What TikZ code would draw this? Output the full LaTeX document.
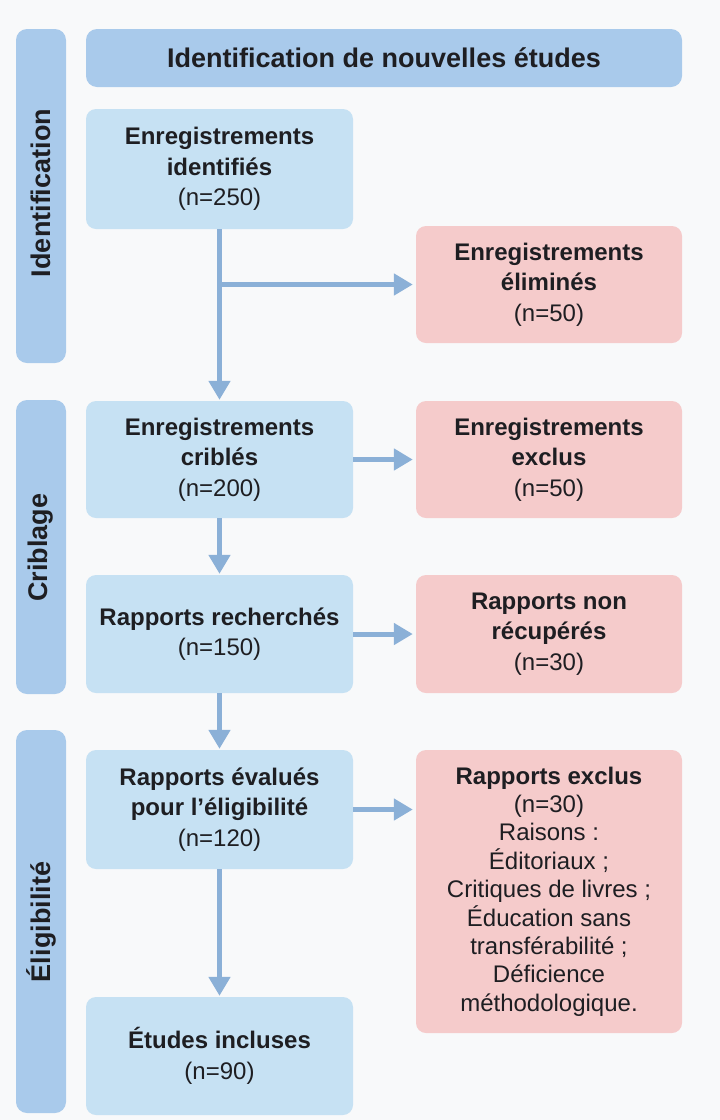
\documentclass[tikz,border=0pt]{standalone}
\usepackage{fontspec}
\setmainfont{Liberation Sans}
\usetikzlibrary{arrows.meta,calc}
\definecolor{bgc}{HTML}{F8F9FA}
\definecolor{barc}{HTML}{A9CAEB}
\definecolor{boxb}{HTML}{C6E1F3}
\definecolor{boxr}{HTML}{F5CBCB}
\definecolor{arrc}{HTML}{8BB0D7}
\definecolor{txtc}{HTML}{1E1E22}
\newcommand{\cnt}[1]{{\mdseries #1}}
\tikzset{
  bluebox/.style={rectangle, rounded corners=10pt, fill=boxb, text=txtc, align=center,
    minimum width=267pt, inner sep=0pt, font=\fontsize{24}{30.5}\selectfont\bfseries},
  redbox/.style={rectangle, rounded corners=10pt, fill=boxr, text=txtc, align=center,
    minimum width=266pt, inner sep=0pt, font=\fontsize{24}{30.5}\selectfont\bfseries},
  sidebar/.style={rectangle, rounded corners=11pt, fill=barc, text=txtc, minimum width=50pt,
    inner sep=0pt},
  sidelabel/.style={rotate=90, text=txtc, font=\fontsize{27}{30}\selectfont\bfseries, inner sep=0pt},
  flow/.style={draw=arrc, line width=5pt, -{Triangle[width=21pt,length=19pt]}}
}
\begin{document}
\begin{tikzpicture}[x=1pt,y=-1pt]
\fill[bgc] (0,0) rectangle (720,1120);
\useasboundingbox (0,0) rectangle (720,1120);

% title bar
\node[sidebar, minimum width=596pt, minimum height=58pt, font=\fontsize{27}{30}\selectfont\bfseries]
  (title) at (384,58) {Identification de nouvelles études};

% side bars
\node[sidebar, minimum height=334pt] (sid) at (41,196) {};
\node[sidelabel] (lid) at (41,193) {Identification};
\node[sidebar, minimum height=294pt] (scr) at (41,547) {};
\node[sidelabel] (lcr) at (41,547.5) {Criblage};
\node[sidebar, minimum height=383pt] (sel) at (41,921.5) {};
\node[sidelabel] (lel) at (41,922) {Éligibilité};

% blue boxes
\node[bluebox, minimum height=120pt] (b1) at (219.5,169) {Enregistrements\\identifiés\\\cnt{(n=250)}};
\node[bluebox, minimum height=117pt] (b2) at (219.5,459.5) {Enregistrements\\criblés\\\cnt{(n=200)}};
\node[bluebox, minimum height=118pt] (b3) at (219.5,634) {Rapports recherchés\\\cnt{(n=150)}};
\node[bluebox, minimum height=119pt] (b4) at (219.5,809.5) {Rapports évalués\\pour l'éligibilité\\\cnt{(n=120)}};
\node[bluebox, minimum height=118pt] (b5) at (219.5,1056) {Études incluses\\\cnt{(n=90)}};

% red boxes
\node[redbox, minimum height=117pt] (r1) at (549,284.5) {Enregistrements\\éliminés\\\cnt{(n=50)}};
\node[redbox, minimum height=117pt] (r2) at (549,459.5) {Enregistrements\\exclus\\\cnt{(n=50)}};
\node[redbox, minimum height=118pt] (r3) at (549,634) {Rapports non\\récupérés\\\cnt{(n=30)}};
\node[redbox, minimum height=283pt, font=\fontsize{24}{28.4}\selectfont\bfseries] (r4) at (549,891.5)
  {Rapports exclus\\\cnt{(n=30)}\\\cnt{Raisons :}\\\cnt{Éditoriaux ;}\\\cnt{Critiques de livres ;}\\\cnt{Éducation sans}\\\cnt{transférabilité ;}\\\cnt{Déficience}\\\cnt{méthodologique.}};

% connectors
\coordinate (br) at (b1.south |- r1.west);
\draw[flow, shorten >=1pt] (b1.south) -- (b2.north);
\draw[flow, shorten >=3pt, -{Triangle[width=21pt,length=19pt]}] (br) -- (r1.west);
\draw[flow, shorten >=3pt] (b2.east) -- (r2.west);
\draw[flow, shorten >=3pt] (b3.east) -- (r3.west);
\draw[flow, shorten >=3pt] (b4.east) -- (b4.east -| r4.west);
\draw[flow, shorten >=1pt] (b2.south) -- (b3.north);
\draw[flow, shorten >=1pt] (b3.south) -- (b4.north);
\draw[flow, shorten >=1pt] (b4.south) -- (b5.north);
\end{tikzpicture}
\end{document}
